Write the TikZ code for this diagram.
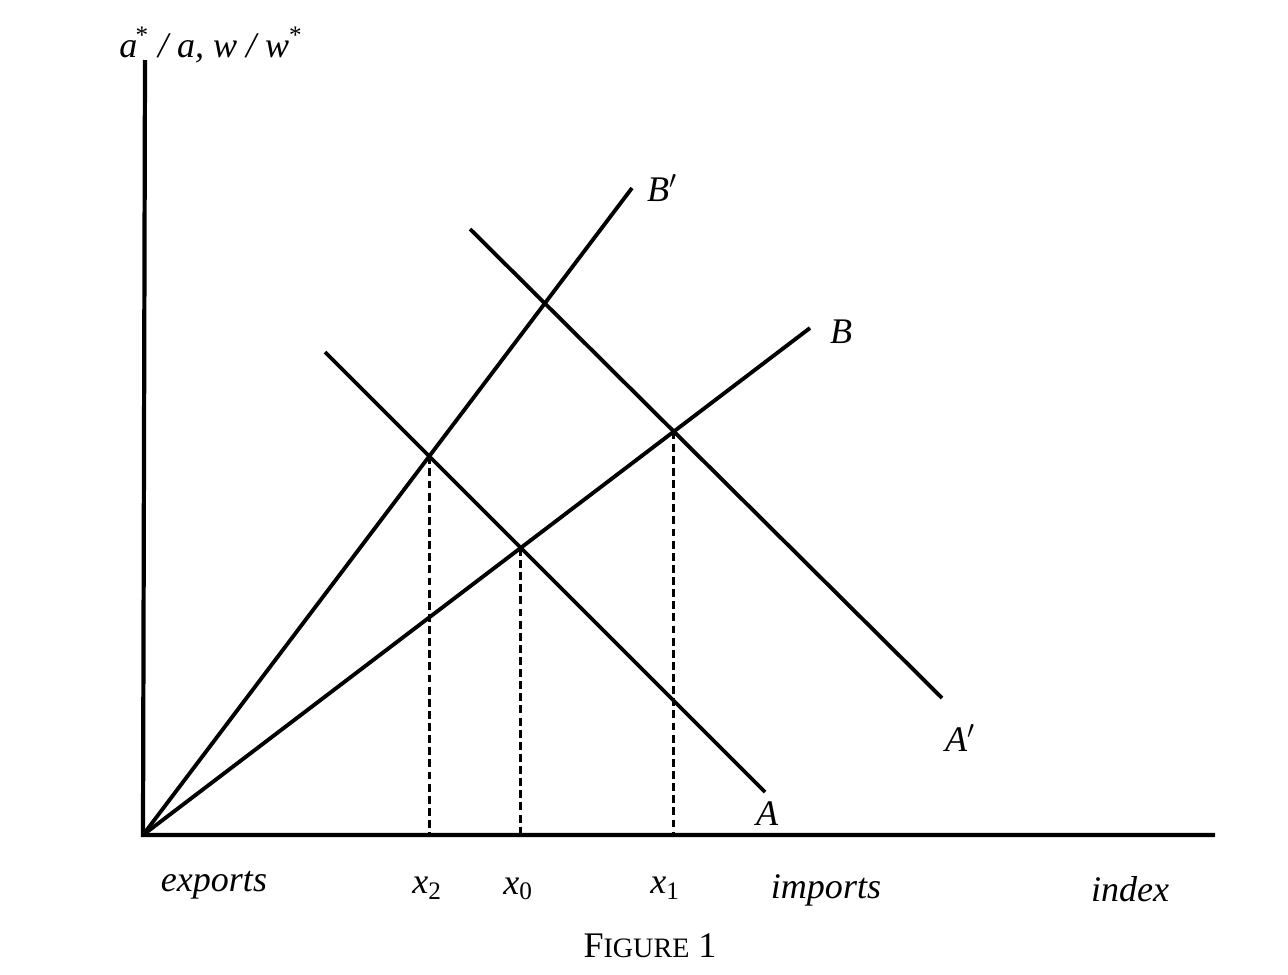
\documentclass[tikz,border=0pt]{standalone}
\usepackage{fontspec}
\setmainfont{Liberation Serif}
\usetikzlibrary{positioning}
\tikzset{
	axis/.style={line width=2.4pt},
	curve/.style={line width=2.2pt},
	guide/.style={line width=1.7pt, dash pattern=on 4.5pt off 2.4pt},
	lbl/.style={font=\fontsize{20.5}{24}\selectfont\itshape, inner sep=0pt}
}

\begin{document}
\begin{tikzpicture}[x=0.02cm, y=-0.02cm]
	\useasboundingbox (0,0) rectangle (1288,974);
	
	% Axes
	\coordinate (O) at (143,835);
	\coordinate (Ytop) at (145,60);
	\coordinate (Xend) at (1215,835);
	\draw[axis] (Ytop) -- (O) -- (Xend);
	\node[lbl, anchor=west] (ylab) at (119,45) {a\kern-1pt\textsuperscript{\upshape*} / a, w / w\textsuperscript{\upshape*}};
	
	% Curves B and B'
	\coordinate (Bend) at (810,328);
	\coordinate (Bpend) at (632,188);
	\draw[curve] (O) -- (Bend);
	\draw[curve] (O) -- (Bpend);
	\node[lbl] (Blab) at (841,332) {B};
	\node[lbl] (Bplab) at (662,188) {B\upshape$'$};
	
	% Curves A and A'
	\coordinate (Astart) at (325,352);
	\coordinate (Aend) at (765,792);
	\coordinate (Apstart) at (470,229);
	\coordinate (Apend) at (942,698);
	\draw[curve] (Astart) -- (Aend);
	\draw[curve] (Apstart) -- (Apend);
	\node[lbl] (Alab) at (767,814) {A};
	\node[lbl] (Aplab) at (960,738) {A\upshape$'$};
	
	% Equilibria
	\coordinate (E2) at (intersection of O--Bpend and Astart--Aend);
	\coordinate (E0) at (intersection of O--Bend and Astart--Aend);
	\coordinate (E1) at (intersection of O--Bend and Apstart--Apend);
	\draw[guide] (E2) -- (E2 |- O);
	\draw[guide] (E0) -- (E0 |- O);
	\draw[guide] (E1) -- (E1 |- O);
	
	% Labels below the axis
	\node[lbl] (exp) at (214,885) {exports};
	\node[lbl] (x2) at (427,888) {x\textsubscript{\upshape 2}};
	\node[lbl] (x0) at (518,889) {x\textsubscript{\upshape 0}};
	\node[lbl] (x1) at (665,888) {x\textsubscript{\upshape 1}};
	\node[lbl] (imp) at (826,890) {imports};
	\node[lbl] (idx) at (1130,889) {index};
	\node[lbl, font=\fontsize{20.5}{24}\selectfont] (fig) at (650,946) {F{\fontsize{16}{19}\selectfont IGURE} 1};
	
\end{tikzpicture}
\end{document}
